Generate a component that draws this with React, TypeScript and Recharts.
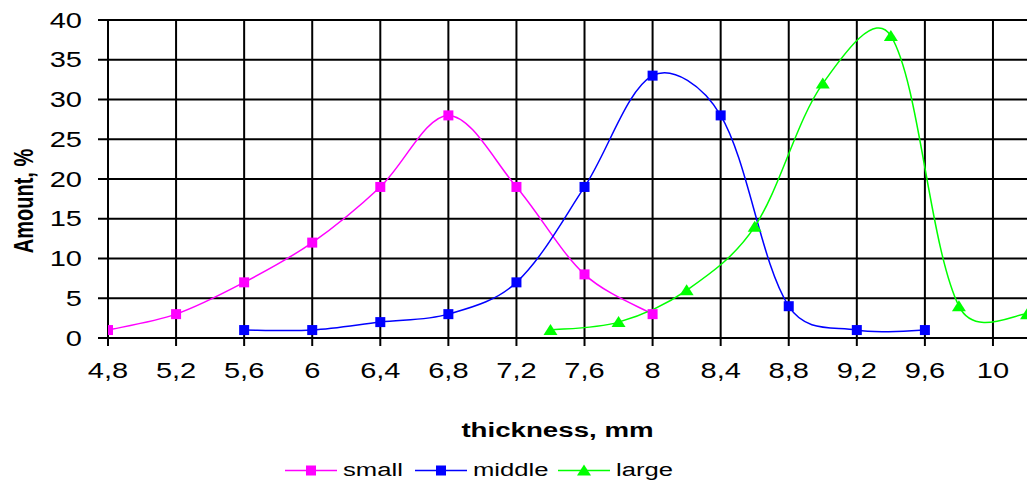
import React from 'react';
import { LineChart, Line, XAxis, YAxis, CartesianGrid, Legend } from 'recharts';

const smallPts = [
  { x: 4.8, y: 1 }, { x: 5.2, y: 3 }, { x: 5.6, y: 7 }, { x: 6.0, y: 12 }, { x: 6.4, y: 19 },
  { x: 6.8, y: 28 }, { x: 7.2, y: 19 }, { x: 7.6, y: 8 }, { x: 8.0, y: 3 },
];
const middlePts = [
  { x: 5.6, y: 1 }, { x: 6.0, y: 1 }, { x: 6.4, y: 2 }, { x: 6.8, y: 3 }, { x: 7.2, y: 7 },
  { x: 7.6, y: 19 }, { x: 8.0, y: 33 }, { x: 8.4, y: 28 }, { x: 8.8, y: 4 }, { x: 9.2, y: 1 }, { x: 9.6, y: 1 },
];
const largePts = [
  { x: 7.4, y: 1 }, { x: 7.8, y: 2 }, { x: 8.2, y: 6 }, { x: 8.6, y: 14 }, { x: 9.0, y: 32 },
  { x: 9.4, y: 38 }, { x: 9.8, y: 4 }, { x: 10.2, y: 3 },
];

const xTicks = [4.8, 5.2, 5.6, 6.0, 6.4, 6.8, 7.2, 7.6, 8.0, 8.4, 8.8, 9.2, 9.6, 10.0];
const yTicks = [0, 5, 10, 15, 20, 25, 30, 35, 40];

const FONT = '"Liberation Sans", Arial, sans-serif';
// the original picture is stretched sideways, so text is widened too
const SX = 1.35;

// Excel-like smoothed line: bezier with tangents weighted by segment lengths
const smoothCurve = (context: any) => {
  let pts: number[][] = [];
  const dist = (a: number[], b: number[]) => Math.hypot(b[0] - a[0], b[1] - a[1]);
  return {
    areaStart() {},
    areaEnd() {},
    lineStart() { pts = []; },
    point(x: number, y: number) { pts.push([x, y]); },
    lineEnd() {
      const n = pts.length;
      if (!n) return;
      context.moveTo(pts[0][0], pts[0][1]);
      for (let i = 0; i < n - 1; i++) {
        const p0 = pts[Math.max(i - 1, 0)];
        const p1 = pts[i];
        const p2 = pts[i + 1];
        const p3 = pts[Math.min(i + 2, n - 1)];
        const d01 = dist(p0, p1);
        const d12 = dist(p1, p2);
        const d23 = dist(p2, p3);
        const f1 = (d01 + d12 ? d12 / (d01 + d12) : 0.5) / 3;
        const f2 = (d12 + d23 ? d12 / (d12 + d23) : 0.5) / 3;
        const g1 = i === 0 ? 1 / 6 : (f1 + 1 / 6) / 2;
        const g2 = i === n - 2 ? 1 / 6 : (f2 + 1 / 6) / 2;
        context.bezierCurveTo(
          p1[0] + (p2[0] - p0[0]) * g1, p1[1] + (p2[1] - p0[1]) * g1,
          p2[0] - (p3[0] - p1[0]) * g2, p2[1] - (p3[1] - p1[1]) * g2,
          p2[0], p2[1],
        );
      }
    },
  };
};

const SquareDot = (color: string) => (props: any) => {
  const { cx, cy, index } = props;
  if (cx == null || cy == null) return <g key={index} />;
  return <rect key={index} x={cx - 5} y={cy - 5} width={10} height={10} fill={color} />;
};

const TriangleDot = (color: string) => (props: any) => {
  const { cx, cy, index } = props;
  if (cx == null || cy == null) return <g key={index} />;
  return <polygon key={index} points={`${cx},${cy - 6} ${cx + 7},${cy + 5} ${cx - 7},${cy + 5}`} fill={color} />;
};

const series = [
  { name: 'small', color: '#ff00ff', marker: 'square', data: smallPts },
  { name: 'middle', color: '#0000ff', marker: 'square', data: middlePts },
  { name: 'large', color: '#00ff00', marker: 'triangle', data: largePts },
];
const legendX = [285, 415, 558];

const fmt = (v: number) => String(Math.round(v * 10) / 10).replace('.', ',');

const XTick = (props: any) => {
  const { x, y, payload } = props;
  return (
    <g transform={`translate(${x},${y}) scale(${SX},1)`}>
      <text x={0} y={0} dy="0.71em" textAnchor="middle" fill="#000" style={{ fontFamily: FONT, fontSize: 21.5 }}>
        {fmt(payload.value)}
      </text>
    </g>
  );
};

const YTick = (props: any) => {
  const { x, y, payload } = props;
  return (
    <g transform={`translate(${x},${y}) scale(${SX},1)`}>
      <text x={0} y={0} dy="0.36em" textAnchor="end" fill="#000" style={{ fontFamily: FONT, fontSize: 21.5 }}>
        {payload.value}
      </text>
    </g>
  );
};

const renderLegend = () => (
  <svg width={1027} height={24} style={{ display: 'block' }}>
    {series.map((s, i) => {
      const x0 = legendX[i];
      return (
        <g key={s.name}>
          <line x1={x0} y1={11.5} x2={x0 + 52} y2={11.5} stroke={s.color} strokeWidth={1.5} />
          {s.marker === 'square' ? (
            <rect x={x0 + 21} y={6.5} width={10} height={10} fill={s.color} />
          ) : (
            <polygon points={`${x0 + 26},${5.5} ${x0 + 33},${16.5} ${x0 + 19},${16.5}`} fill={s.color} />
          )}
          <g transform={`translate(${x0 + 58},17) scale(${SX},1)`}>
            <text x={0} y={0} fill="#000" style={{ fontFamily: FONT, fontSize: 19 }}>{s.name}</text>
          </g>
        </g>
      );
    })}
  </svg>
);

export default function App() {
  return (
    <div style={{ position: 'absolute', left: 0, top: 0, background: '#fff' }}>
      <LineChart width={1033} height={483} margin={{ top: 20, right: 6, left: 0, bottom: 0 }}>
        <CartesianGrid stroke="#000" strokeWidth={2} horizontalValues={yTicks} verticalValues={xTicks} />
        <XAxis
          type="number"
          dataKey="x"
          domain={[4.8, 10.2]}
          ticks={xTicks}
          allowDataOverflow
          height={121}
          tickSize={8}
          tickMargin={17}
          stroke="#000"
          strokeWidth={2}
          tick={<XTick />}
          label={(p: any) => {
            const vb = p.viewBox || {};
            const cx = (vb.x || 0) + (vb.width || 0) / 2 - 10;
            const cy = (vb.y || 0) + 99;
            return (
              <g transform={`translate(${cx},${cy}) scale(${SX},1)`}>
                <text x={0} y={0} textAnchor="middle" fill="#000" style={{ fontFamily: FONT, fontSize: 20.5, fontWeight: 'bold' }}>
                  thickness, mm
                </text>
              </g>
            );
          }}
        />
        <YAxis
          type="number"
          domain={[0, 40]}
          ticks={yTicks}
          width={108}
          tickSize={10}
          tickMargin={16}
          stroke="#000"
          strokeWidth={2}
          tick={<YTick />}
          label={(p: any) => {
            const vb = p.viewBox || {};
            const cx = (vb.x || 0) + 32.5;
            const cy = (vb.y || 0) + (vb.height || 0) / 2 + 22;
            return (
              <g transform={`translate(${cx},${cy}) scale(${SX},1) rotate(-90)`}>
                <text x={0} y={0} textAnchor="middle" fill="#000" style={{ fontFamily: FONT, fontSize: 20, fontWeight: 'bold' }}>
                  Amount, %
                </text>
              </g>
            );
          }}
        />
        <Legend verticalAlign="bottom" content={renderLegend} />
        {series.map((s) => (
          <Line
            key={s.name}
            data={s.data}
            dataKey="y"
            name={s.name}
            type={smoothCurve as any}
            stroke={s.color}
            strokeWidth={1.5}
            dot={s.marker === 'square' ? SquareDot(s.color) : TriangleDot(s.color)}
            activeDot={false}
            isAnimationActive={false}
          />
        ))}
      </LineChart>
    </div>
  );
}
